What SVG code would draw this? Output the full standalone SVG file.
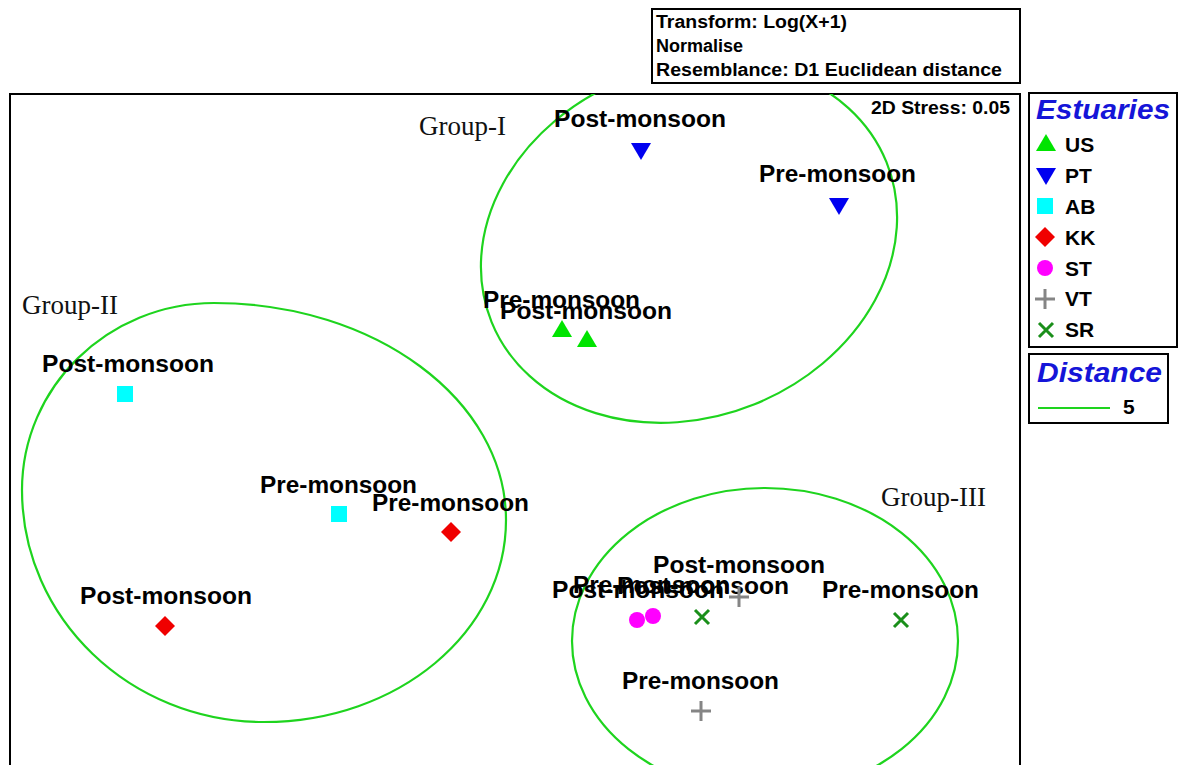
<svg xmlns="http://www.w3.org/2000/svg" width="1180" height="765" viewBox="0 0 1180 765">
<style>
.frame{fill:none;stroke:#000;stroke-width:2}
.hdr{font-family:"Liberation Sans",Arial,sans-serif;font-weight:bold;font-size:18px;fill:#000}
.lbl{font-family:"Liberation Sans",Arial,sans-serif;font-weight:bold;font-size:23px;fill:#000}
.leg{font-family:"Liberation Sans",Arial,sans-serif;font-weight:bold;font-size:21px;fill:#000}
.ttl{font-family:"Liberation Sans",Arial,sans-serif;font-weight:bold;font-style:italic;font-size:27px;fill:#1515d8}
.grp{font-family:"Liberation Serif","Times New Roman",serif;font-size:27px;fill:#111}
.ell{fill:none;stroke:#1ed41e;stroke-width:2.2}
.us{fill:#00e400}
.pt{fill:#0000f0}
.ab{fill:#00ffff}
.kk{fill:#f00000}
.st{fill:#ff00ff}
.vt{stroke:#858585;stroke-width:3;fill:none}
.sr{stroke:#1a8f1a;stroke-width:3;fill:none}
</style>
<defs>
<clipPath id="plotclip"><rect x="10" y="94" width="1009" height="671"/></clipPath>
<path id="triUp" d="M-10,8 L10,8 L0,-9 Z"/>
<path id="triDn" d="M-10,-8 L10,-8 L0,9 Z"/>
<rect id="sq" x="-8" y="-8" width="16" height="16"/>
<path id="dia" d="M0,-10 L10,0 L0,10 L-10,0 Z"/>
<circle id="cir" r="8"/>
<path id="plus" d="M-10,0 H10 M0,-10 V10"/>
<path id="cross" d="M-7,-7 L7,7 M-7,7 L7,-7"/>
</defs>
<rect width="1180" height="765" fill="#fff"/>

<g id="info-box">
<rect class="frame" x="652" y="9" width="368" height="74"/>
<text class="hdr" x="656" y="28" textLength="191" lengthAdjust="spacingAndGlyphs">Transform: Log(X+1)</text>
<text class="hdr" x="656" y="52">Normalise</text>
<text class="hdr" x="656" y="76" textLength="346" lengthAdjust="spacingAndGlyphs">Resemblance: D1 Euclidean distance</text>
</g>

<g id="plot-frame">
<rect class="frame" x="10" y="94" width="1010" height="680"/>
<text class="hdr" x="1010" y="114" text-anchor="end" font-size="19" textLength="139" lengthAdjust="spacingAndGlyphs">2D Stress: 0.05</text>
</g>

<g id="connectors" clip-path="url(#plotclip)">
<ellipse id="group-I-outline" class="ell" cx="689" cy="242" rx="213" ry="175" transform="rotate(-22 689 242)"/>
<path id="group-II-outline" class="ell" d="M214,303 C375,303 506,400 506,520 C506,632 398,722 264,722 C130,722 22,618 22,490 C22,387 108,303 214,303 Z"/>
<ellipse id="group-III-outline" class="ell" cx="765" cy="641" rx="193" ry="153"/>
</g>

<g id="group-labels">
<text id="group-I" class="grp" x="419" y="135">Group-I</text>
<text id="group-II" class="grp" x="22" y="314">Group-II</text>
<text id="group-III" class="grp" x="881" y="506">Group-III</text>
</g>

<g id="PT-post"><use href="#triDn" class="pt" x="641" y="151"/><text class="lbl" x="554" y="127" textLength="172" lengthAdjust="spacingAndGlyphs">Post-monsoon</text></g>
<g id="PT-pre"><use href="#triDn" class="pt" x="839" y="206"/><text class="lbl" x="759" y="182" textLength="157" lengthAdjust="spacingAndGlyphs">Pre-monsoon</text></g>
<g id="US-pre"><use href="#triUp" class="us" x="562" y="329"/><text class="lbl" x="483" y="308" textLength="157" lengthAdjust="spacingAndGlyphs">Pre-monsoon</text></g>
<g id="US-post"><use href="#triUp" class="us" x="587" y="339"/><text class="lbl" x="500" y="319" textLength="172" lengthAdjust="spacingAndGlyphs">Post-monsoon</text></g>
<g id="AB-post"><use href="#sq" class="ab" x="125" y="394"/><text class="lbl" x="42" y="372" textLength="172" lengthAdjust="spacingAndGlyphs">Post-monsoon</text></g>
<g id="AB-pre"><use href="#sq" class="ab" x="339" y="514"/><text class="lbl" x="260" y="493" textLength="157" lengthAdjust="spacingAndGlyphs">Pre-monsoon</text></g>
<g id="KK-pre"><use href="#dia" class="kk" x="451" y="532"/><text class="lbl" x="372" y="511" textLength="157" lengthAdjust="spacingAndGlyphs">Pre-monsoon</text></g>
<g id="KK-post"><use href="#dia" class="kk" x="165" y="626"/><text class="lbl" x="80" y="604" textLength="172" lengthAdjust="spacingAndGlyphs">Post-monsoon</text></g>
<g id="ST-post"><use href="#cir" class="st" x="637" y="620"/><text class="lbl" x="552" y="598" textLength="172" lengthAdjust="spacingAndGlyphs">Post-monsoon</text></g>
<g id="ST-pre"><use href="#cir" class="st" x="653" y="616"/><text class="lbl" x="573" y="593" textLength="157" lengthAdjust="spacingAndGlyphs">Pre-monsoon</text></g>
<g id="SR-post"><use href="#cross" class="sr" x="702" y="617"/><text class="lbl" x="617" y="594" textLength="172" lengthAdjust="spacingAndGlyphs">Post-monsoon</text></g>
<g id="VT-post"><use href="#plus" class="vt" x="739" y="597"/><text class="lbl" x="653" y="573" textLength="172" lengthAdjust="spacingAndGlyphs">Post-monsoon</text></g>
<g id="SR-pre"><use href="#cross" class="sr" x="901" y="620"/><text class="lbl" x="822" y="598" textLength="157" lengthAdjust="spacingAndGlyphs">Pre-monsoon</text></g>
<g id="VT-pre"><use href="#plus" class="vt" x="701" y="711"/><text class="lbl" x="622" y="689" textLength="157" lengthAdjust="spacingAndGlyphs">Pre-monsoon</text></g>

<g id="legend-estuaries">
<rect class="frame" x="1029" y="93" width="148" height="254"/>
<text class="ttl" x="1036" y="119" textLength="134" lengthAdjust="spacingAndGlyphs">Estuaries</text>
<use href="#triUp" class="us" x="1046" y="143"/><text class="leg" x="1065" y="152">US</text>
<use href="#triDn" class="pt" x="1046" y="176"/><text class="leg" x="1065" y="183">PT</text>
<use href="#sq" class="ab" x="1045" y="206"/><text class="leg" x="1065" y="214">AB</text>
<use href="#dia" class="kk" x="1045" y="237"/><text class="leg" x="1065" y="245">KK</text>
<use href="#cir" class="st" x="1045" y="268"/><text class="leg" x="1065" y="276">ST</text>
<use href="#plus" class="vt" x="1045" y="299"/><text class="leg" x="1065" y="306">VT</text>
<use href="#cross" class="sr" x="1046" y="330"/><text class="leg" x="1065" y="337">SR</text>
</g>

<g id="legend-distance">
<rect class="frame" x="1029" y="354" width="139" height="69"/>
<text class="ttl" x="1037" y="382" textLength="125" lengthAdjust="spacingAndGlyphs">Distance</text>
<line x1="1038" y1="408" x2="1110" y2="408" stroke="#1ed41e" stroke-width="2"/>
<text class="leg" x="1123" y="414">5</text>
</g>
</svg>
